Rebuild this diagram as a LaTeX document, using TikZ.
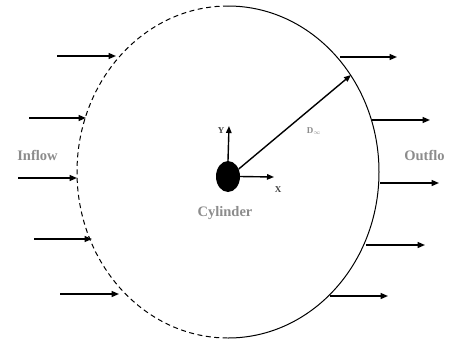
\documentclass[tikz,border=0pt]{standalone}
\usepackage{fontspec}
\setmainfont{Liberation Serif}
\usetikzlibrary{arrows.meta, shapes.geometric}

\begin{document}
\begin{tikzpicture}[
			x=1pt, y=1pt,
			flow/.style={-{Triangle[length=7.5pt,width=6pt]}, line width=1.5pt},
			axis/.style={-{Triangle[length=7pt,width=5.5pt]}, line width=1.4pt},
			rim/.style={line width=1pt},
			tag/.style={font=\bfseries\fontsize{14.5}{16}\selectfont, text=black!45, inner sep=0pt},
			small/.style={font=\bfseries\fontsize{9}{10}\selectfont, inner sep=0pt}
			]
			\useasboundingbox (0,0) rectangle (455,-341);
			% far-field boundary
			\coordinate (ctr) at (228,-172);
			\draw[rim, dash pattern=on 5pt off 3.5pt] (228,-6) arc[start angle=90, end angle=270, x radius=151, y radius=166];
			\draw[rim] (228,-338) arc[start angle=-90, end angle=90, x radius=151, y radius=166];
			% cylinder and axes
			\node[ellipse, fill=black, minimum width=24pt, minimum height=31pt, inner sep=0pt] (cyl) at (228,-176.5) {};
			\coordinate (ytip) at (229,-126);
			\coordinate (xtip) at (274,-177);
			\coordinate (rtip) at (351,-75);
			\draw[axis] (cyl.north) -- (ytip);
			\draw[axis] (cyl.east) -- (xtip);
			\draw[axis] (cyl.35) -- (rtip);
			\node[small, text=black!75] (ylab) at (221,-131) {Y};
			\node[small, text=black!75] (xlab) at (278,-190) {X};
			\node[small, text=black!45] (dlab) at (314,-131) {D$_\infty$};
			% inflow and outflow
			\foreach \i/\y/\xa/\xb in {1/56/57/116,2/118/29/86,3/178/18/77,4/239/34/92,5/294/60/119} {
				\coordinate (ina\i) at (\xa,-\y);
				\coordinate (inb\i) at (\xb,-\y);
				\draw[flow] (ina\i) -- (inb\i);
			}
			\foreach \i/\y/\xa/\xb in {1/57/340/397,2/120/372/430,3/183/380/439,4/245/366/425,5/296/330/388} {
				\coordinate (outa\i) at (\xa,-\y);
				\coordinate (outb\i) at (\xb,-\y);
				\draw[flow] (outa\i) -- (outb\i);
			}
			\node[tag] (inlab) at (37.5,-155) {Inflow};
			\node[tag] (outlab) at (424.5,-155) {Outflo};
			\node[tag] (cyllab) at (225,-213) {Cylinder};
		\end{tikzpicture}
\end{document}
